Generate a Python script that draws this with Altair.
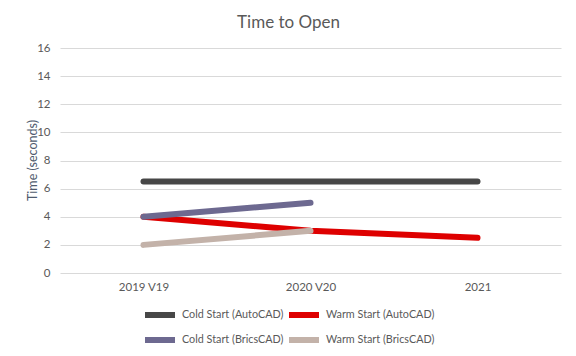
import altair as alt
import pandas as pd

versions = ["2019 V19", "2020 V20", "2021"]
series_names = ["Cold Start (AutoCAD)", "Warm Start (AutoCAD)", "Cold Start (BricsCAD)", "Warm Start (BricsCAD)"]
cold_autocad = [6.5, 6.5, 6.5]
warm_autocad = [4.0, 3.0, 2.5]
cold_bricscad = [4.0, 5.0]
warm_bricscad = [2.0, 3.0]
colors = ["#474747", "#de0000", "#6d6990", "#c3b2a9"]
legend_order = [series_names[0], series_names[2], series_names[1], series_names[3]]
legend_colors = [colors[0], colors[2], colors[1], colors[3]]

rows = []
for name, vals in zip(series_names, [cold_autocad, warm_autocad, cold_bricscad, warm_bricscad]):
    for i, v in enumerate(vals):
        rows.append({"Version": versions[i], "Series": name, "Time": v, "idx": i})
df = pd.DataFrame(rows)

font = "Lato"
chart = alt.Chart(df).mark_line(strokeWidth=6, strokeCap="round", strokeJoin="round").encode(
    x=alt.X("Version:N", sort=versions, title=None,
            scale=alt.Scale(type="point", padding=0.5),
            axis=alt.Axis(labelAngle=0, domain=False, ticks=False, grid=False,
                          labelPadding=8, labelFont=font, labelFontSize=11.5, labelColor="#595959")),
    y=alt.Y("Time:Q", title="Time (seconds)",
            scale=alt.Scale(domain=[0, 16], nice=False),
            axis=alt.Axis(values=list(range(0, 17, 2)), domain=False, ticks=False,
                          gridColor="#d9d9d9", gridWidth=1, labelPadding=10,
                          labelFont=font, labelFontSize=11.5, labelColor="#595959",
                          titleFont=font, titleFontSize=12.5, titleFontWeight="normal",
                          titleColor="#4f5b6e", titleX=-21, titleY=112)),
    color=alt.Color("Series:N",
                    scale=alt.Scale(domain=legend_order, range=legend_colors),
                    legend=alt.Legend(title=None, orient="none", legendX=87, legendY=254,
                                      columns=2, columnPadding=-7, rowPadding=0,
                                      symbolType="M-1.5,0H1.5", symbolStrokeWidth=6, symbolSize=400,
                                      labelOffset=9,
                                      labelFont=font, labelFontSize=10.8, labelColor="#595959",
                                      labelLimit=200)),
    order="idx:Q",
).properties(
    width=501, height=225,
    title=alt.TitleParams("Time to Open", font=font, fontSize=17, fontWeight="normal",
                          color="#595959", anchor="middle", dx=-22, offset=10),
    autosize=alt.AutoSizeParams(type="none"),
    padding={"left": 52, "top": 40, "right": 7, "bottom": 75},
).configure_view(stroke=None)

chart.save("out.html", embed_options={"renderer": "svg", "actions": False})
